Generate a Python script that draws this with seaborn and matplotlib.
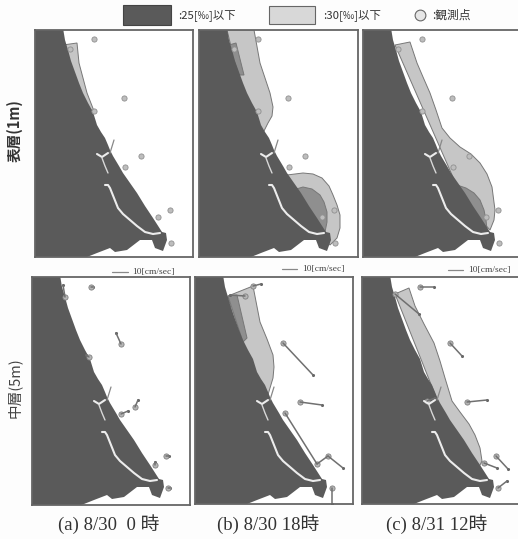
import numpy as np
import pandas as pd
import seaborn as sns
import matplotlib.pyplot as plt

sns.set_theme(style='white')
plt.rcParams['font.family'] = ['Noto Sans CJK JP', 'DejaVu Sans']

# map outline, in map units (x east, y south, panel is 158 x 227)
coast_x = [-2, 28, 30, 33, 36, 40, 44, 48, 53, 58, 62, 66, 70, 73, 75, 78, 84, 88, 95, 102, 110, 118, 127, 131, 132, 128, 120, 117, 105, 92, 80, 75, 62, 52, 46, -2]
coast_y = [-2, -2, 10, 20, 31, 42, 53, 63, 73, 82, 95, 102, 108, 115, 120, 126, 136, 143, 153, 163, 176, 188, 202, 203, 210, 221, 218, 210, 210, 220, 222, 218, 223, 227, 229, 229]
river_x = [70, 73, 75, 79, 83, 88, 95, 102, 110, 118, 125]
river_y = [155, 155, 158, 168, 178, 184, 190, 196, 202, 204, 203]
harbor_x = [62, 67, 73]
harbor_y = [124, 127, 123]
harbor2_x = [67, 70, 73]
harbor2_y = [128, 136, 143]
pier_x = [75, 79]
pier_y = [123, 110]

# stations
st_x = [59, 35, 89, 59, 106, 90, 135, 123, 136]
st_y = [9, 19, 68, 81, 126, 137, 180, 187, 213]

# salinity areas, surface layer
s30a_x = [28, 42, 44, 48, 52, 59, 50]
s30a_y = [15, 13, 33, 48, 63, 81, 78]
s30b_x = [28, 55, 61, 66, 71, 74, 73, 69, 64, 50]
s30b_y = [0, 0, 33, 48, 63, 77, 86, 93, 103, 90]
s25b_x = [30, 37, 45, 40]
s25b_y = [15, 13, 45, 45]
s30b2_x = [88, 96, 104, 114, 123, 130, 134, 138, 141, 141, 138, 131, 110]
s30b2_y = [145, 144, 143, 144, 148, 156, 165, 175, 185, 198, 208, 215, 190]
s25b2_x = [94, 104, 113, 121, 125, 128, 128, 126, 110]
s25b2_y = [160, 157, 159, 165, 172, 182, 192, 202, 190]
s30c_x = [32, 47, 54, 60, 67, 73, 79, 87, 97, 108, 117, 124, 129, 132, 131, 127, 100]
s30c_y = [15, 12, 33, 47, 63, 80, 98, 108, 117, 124, 133, 144, 157, 180, 190, 200, 170]
s25c_x = [94, 103, 111, 117, 121, 123, 124, 110]
s25c_y = [155, 158, 163, 170, 180, 190, 200, 190]

# salinity areas, 5 m layer
m30b_x = [33, 58, 65, 72, 78, 79, 78, 72, 50]
m30b_y = [19, 9, 45, 62, 78, 90, 101, 121, 90]
m25b_x = [33, 42, 52, 48]
m25b_y = [19, 18, 61, 65]
m30c_x = [33, 47, 53, 62, 72, 78, 83, 90, 98, 107, 113, 118, 120, 115, 90]
m30c_y = [17, 11, 29, 47, 66, 84, 101, 124, 135, 147, 158, 171, 184, 194, 160]

# current vectors: x0, y0, x1, y1
cur_a = [[59, 10, 61, 10], [33, 20, 31, 8], [89, 67, 84, 56], [57, 80, 54, 78], [103, 130, 106, 123],
         [89, 137, 96, 134], [134, 179, 137, 179], [123, 188, 123, 185], [136, 211, 138, 211]]
cur_b = [[58, 9, 66, 7], [50, 19, 35, 18], [88, 66, 118, 98], [105, 125, 127, 128], [90, 136, 122, 187],
         [122, 187, 133, 179], [133, 179, 148, 191], [137, 211, 137, 227]]
cur_c = [[58, 10, 72, 10], [33, 17, 57, 37], [88, 66, 100, 79], [105, 125, 125, 123], [122, 186, 135, 191],
         [134, 179, 146, 192], [136, 211, 145, 204], [65, 124, 73, 121]]

top_labels = ['表層(1m)', '中層(5m)']
bottom_labels = ['(a) 8/30  0 時', '(b) 8/30 18時', '(c) 8/31 12時']
legend_labels = [':25[‰]以下', ':30[‰]以下', ':観測点']
scale_label = '10[cm/sec]'

LAND = '#5a5a5a'
C25 = '#8f8f8f'
C30 = '#c6c6c6'
W, H = 518, 539

fig = plt.figure(figsize=(W / 100, H / 100), dpi=100, facecolor='#fdfdfd')


def panel(x0, y0, x1, y1):
    ax = fig.add_axes([x0 / W, 1 - y1 / H, (x1 - x0) / W, (y1 - y0) / H])
    ax.set_xlim(0, x1 - x0)
    ax.set_ylim(y1 - y0, 0)
    ax.set_xticks([])
    ax.set_yticks([])
    for s in ax.spines.values():
        s.set_color('#666666')
        s.set_linewidth(1.3)
    return ax


def draw_map(ax, areas, vectors=None):
    for xs, ys, c in areas:
        ax.fill(xs, ys, facecolor=c, edgecolor='#777777', lw=0.7)
    ax.fill(coast_x, coast_y, color=LAND, lw=0)
    ax.plot(river_x, river_y, color='#ececec', lw=1.5)
    ax.plot(harbor_x, harbor_y, color='#ececec', lw=1.5)
    ax.plot(harbor2_x, harbor2_y, color='#d8d8d8', lw=1.0)
    ax.plot(pier_x, pier_y, color='#888888', lw=0.9)
    if vectors is not None:
        rows = []
        for i, v in enumerate(vectors):
            rows.append({'id': i, 'x': v[0], 'y': v[1]})
            rows.append({'id': i, 'x': v[2], 'y': v[3]})
        df = pd.DataFrame(rows)
        sns.lineplot(data=df, x='x', y='y', units='id', estimator=None, sort=False,
                     color='#707070', lw=1.1, ax=ax, legend=False)
        heads = pd.DataFrame({'x': [v[2] for v in vectors], 'y': [v[3] for v in vectors]})
        sns.scatterplot(data=heads, x='x', y='y', s=5, color='#666666', linewidth=0, ax=ax, legend=False)
        tails = pd.DataFrame({'x': [v[0] for v in vectors], 'y': [v[1] for v in vectors]})
        sns.scatterplot(data=tails, x='x', y='y', s=14, color='#b5b5b5', edgecolor='#808080',
                        linewidth=0.6, ax=ax, legend=False)
    else:
        st = pd.DataFrame({'x': st_x, 'y': st_y})
        sns.scatterplot(data=st, x='x', y='y', s=14, color='#bdbdbd', edgecolor='#909090',
                        linewidth=0.6, ax=ax, legend=False)
    ax.set_xlabel('')
    ax.set_ylabel('')


# surface layer
ax = panel(35, 30, 193, 257)
draw_map(ax, [(s30a_x, s30a_y, C30)])
ax = panel(199, 30, 358, 257)
draw_map(ax, [(s30b_x, s30b_y, C30), (s25b_x, s25b_y, C25), (s30b2_x, s30b2_y, C30), (s25b2_x, s25b2_y, C25)])
ax = panel(363, 30, 521, 257)
draw_map(ax, [(s30c_x, s30c_y, C30), (s25c_x, s25c_y, C25)])

# 5 m layer
ax = panel(32, 277, 190, 505)
draw_map(ax, [], cur_a)
ax = panel(195, 277, 353, 504)
draw_map(ax, [(m30b_x, m30b_y, C30), (m25b_x, m25b_y, C25)], cur_b)
ax = panel(362, 277, 520, 504)
draw_map(ax, [(m30c_x, m30c_y, C30)], cur_c)

# overlay for everything placed in pixels
ov = fig.add_axes([0, 0, 1, 1], facecolor='none')
ov.set_xlim(0, W)
ov.set_ylim(H, 0)
ov.axis('off')

ov.text(15, 131, top_labels[0], rotation=90, ha='center', va='center', fontsize=10.5, color='#333333', fontweight='bold')
ov.text(14, 388, top_labels[1], rotation=90, ha='center', va='center', fontsize=10.5, color='#444444')

for label, xc in zip(bottom_labels, [109, 268, 437]):
    ov.text(xc, 524, label, ha='center', va='center', fontsize=13.5, color='#333333',
            family=['Liberation Serif', 'Noto Sans CJK JP'])

# legend
ov.fill([123, 171, 171, 123], [5, 5, 25, 25], facecolor=LAND, edgecolor='#444444', lw=0.8)
ov.fill([269, 315, 315, 269], [6, 6, 24, 24], facecolor='#d8d8d8', edgecolor='#666666', lw=0.8)
ov.text(178, 15, legend_labels[0], ha='left', va='center', fontsize=8.2, color='#333333')
ov.text(323, 15, legend_labels[1], ha='left', va='center', fontsize=8.2, color='#333333')
ov.text(432, 15, legend_labels[2], ha='left', va='center', fontsize=8.5, color='#333333')
ov.scatter([420], [15], s=60, facecolor='#e6e6e6', edgecolor='#666666', linewidth=0.8)

# scale vectors
for x0, x1, tx, ty in [(112, 128, 132, 272), (282, 297, 302, 269), (448, 463, 468, 270)]:
    ov.plot([x0, x1], [ty, ty], color='#888888', lw=0.9)
    ov.text(tx, ty, scale_label, ha='left', va='center', fontsize=6.8, color='#444444',
            family=['Liberation Serif'])

fig.savefig('out.png', dpi=100)
